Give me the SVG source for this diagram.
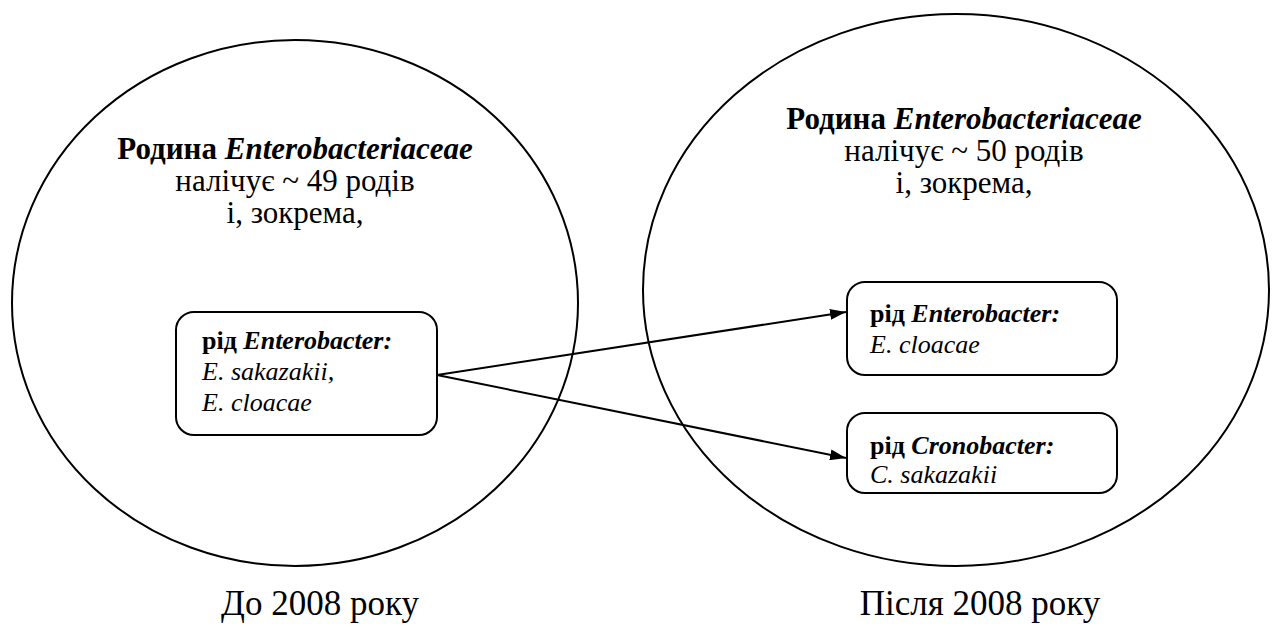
<svg xmlns="http://www.w3.org/2000/svg" width="1272" height="627" viewBox="0 0 1272 627">
<style>
.shape{fill:none;stroke:#000;stroke-width:2}
.nodebox{fill:#fff;stroke:#000;stroke-width:2}
</style>
<defs>
<marker id="ah" markerWidth="16" markerHeight="11" refX="16" refY="5.5" orient="auto" markerUnits="userSpaceOnUse">
<path d="M0,0 L16,5.5 L0,11 z" fill="#000"/>
</marker>
</defs>
<rect width="1272" height="627" fill="#fff"/>
<g id="before" font-family="Liberation Serif, Times New Roman, serif" fill="#000">
<ellipse class="shape" cx="295" cy="303" rx="283" ry="263"/>
<text font-size="31" text-anchor="middle" x="295" y="159"><tspan font-weight="bold">Родина </tspan><tspan font-weight="bold" font-style="italic">Enterobacteriaceae</tspan></text>
<text font-size="31" text-anchor="middle" x="295" y="191">налічує ~ 49 родів</text>
<text font-size="31" text-anchor="middle" x="295" y="223">і, зокрема,</text>
<text font-size="35" text-anchor="middle" x="320" y="615">До 2008 року</text>
</g>
<g id="after" font-family="Liberation Serif, Times New Roman, serif" fill="#000">
<ellipse class="shape" cx="956" cy="290" rx="313" ry="276"/>
<text font-size="31" text-anchor="middle" x="964" y="129"><tspan font-weight="bold">Родина </tspan><tspan font-weight="bold" font-style="italic">Enterobacteriaceae</tspan></text>
<text font-size="31" text-anchor="middle" x="964" y="161">налічує ~ 50 родів</text>
<text font-size="31" text-anchor="middle" x="964" y="193">і, зокрема,</text>
<text font-size="35" text-anchor="middle" x="980" y="615">Після 2008 року</text>
</g>
<g id="box-enterobacter-old" font-family="Liberation Serif, Times New Roman, serif" fill="#000" font-size="26">
<rect class="nodebox" x="176" y="312" width="261" height="123" rx="18"/>
<text x="202" y="349"><tspan font-weight="bold">рід </tspan><tspan font-weight="bold" font-style="italic">Enterobacter:</tspan></text>
<text x="202" y="380" font-style="italic">E. sakazakii,</text>
<text x="202" y="411" font-style="italic">E. cloacae</text>
</g>
<g id="box-enterobacter-new" font-family="Liberation Serif, Times New Roman, serif" fill="#000" font-size="26">
<rect class="nodebox" x="847" y="282" width="270" height="93" rx="18"/>
<text x="870" y="322"><tspan font-weight="bold">рід </tspan><tspan font-weight="bold" font-style="italic">Enterobacter:</tspan></text>
<text x="870" y="353" font-style="italic">E. cloacae</text>
</g>
<g id="box-cronobacter" font-family="Liberation Serif, Times New Roman, serif" fill="#000" font-size="26">
<rect class="nodebox" x="847" y="413" width="270" height="80" rx="18"/>
<text x="870" y="454"><tspan font-weight="bold">рід </tspan><tspan font-weight="bold" font-style="italic">Cronobacter:</tspan></text>
<text x="870" y="483" font-style="italic">C. sakazakii</text>
</g>
<g id="connectors">
<line class="shape" x1="437" y1="375" x2="846" y2="312" marker-end="url(#ah)"/>
<line class="shape" x1="437" y1="375" x2="846" y2="458" marker-end="url(#ah)"/>
</g>
</svg>
